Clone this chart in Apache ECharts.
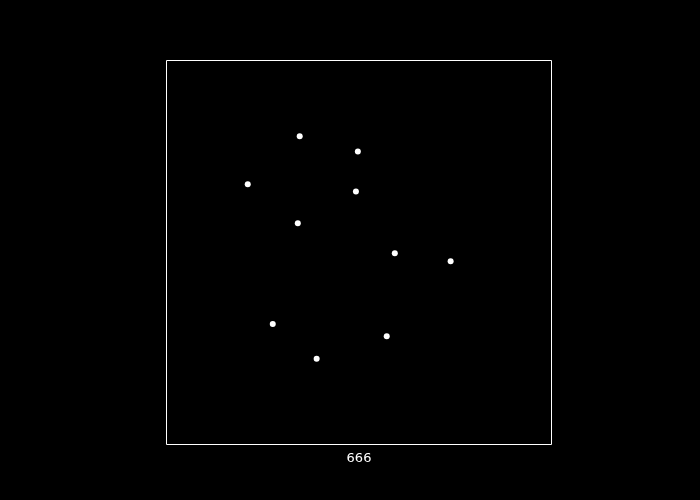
<!DOCTYPE html>
<html>
<head>
<meta charset="utf-8">
<script src="https://cdn.jsdelivr.net/npm/echarts@6/dist/echarts.min.js"></script>
<style>
html,body{margin:0;padding:0;background:#000;}
#chart{width:700px;height:500px;}
</style>
</head>
<body>
<div id="chart"></div>
<script>
const xValues = [0.346, 0.497, 0.211, 0.492, 0.341, 0.593, 0.738, 0.276, 0.572, 0.390];
const yValues = [0.803, 0.763, 0.678, 0.659, 0.576, 0.498, 0.477, 0.314, 0.282, 0.223];
const xLabel = '666';

const points = xValues.map((x, i) => [x, yValues[i]]);

const chart = echarts.init(document.getElementById('chart'), null, {renderer: 'canvas'});
chart.setOption({
  backgroundColor: '#000000',
  animation: false,
  grid: {
    left: 166.5, top: 60.5, width: 385, height: 384,
    show: true, borderColor: '#ffffff', borderWidth: 1, backgroundColor: 'transparent'
  },
  xAxis: {
    type: 'value', min: 0, max: 1,
    name: xLabel, nameLocation: 'middle', nameGap: 8,
    nameTextStyle: {color: '#ffffff', fontSize: 13, fontFamily: 'DejaVu Sans'},
    axisLine: {show: false}, axisTick: {show: false}, axisLabel: {show: false}, splitLine: {show: false}
  },
  yAxis: {
    type: 'value', min: 0, max: 1,
    axisLine: {show: false}, axisTick: {show: false}, axisLabel: {show: false}, splitLine: {show: false}
  },
  series: [{
    type: 'scatter',
    data: points,
    symbolSize: 6,
    itemStyle: {color: '#ffffff', opacity: 1}
  }]
});
</script>
</body>
</html>
